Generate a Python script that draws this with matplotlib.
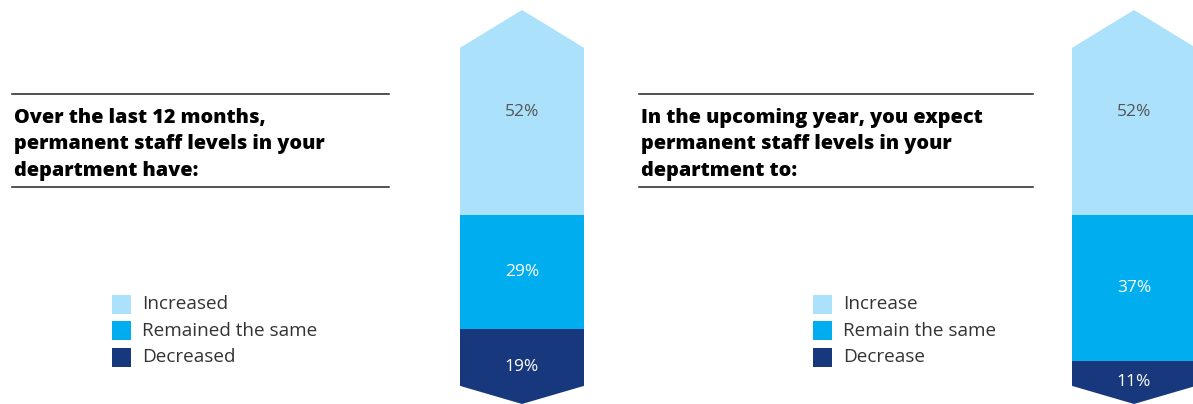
import matplotlib.pyplot as plt
from matplotlib.patches import Polygon, Rectangle
from matplotlib.lines import Line2D

# survey answers, stacked bottom to top: decreased / same / increased
past_labels = ["Increased", "Remained the same", "Decreased"]
past_values = [52, 29, 19]
future_labels = ["Increase", "Remain the same", "Decrease"]
future_values = [52, 37, 11]

past_title = ["Over the last 12 months,",
              "permanent staff levels in your",
              "department have:"]
future_title = ["In the upcoming year, you expect",
                "permanent staff levels in your",
                "department to:"]

colors = ["#ABE1FA", "#00AEEF", "#17387D"]
text_colors = ["#555555", "white", "white"]

W, H = 1193, 404
fig = plt.figure(figsize=(W / 100, H / 100), dpi=100)
fig.patch.set_facecolor("white")


def px(x, y):
    # pixel position (from top-left) to figure fraction
    return x / W, 1 - y / H


def arrow_bar(left_px, values):
    ax = fig.add_axes([left_px / W, 0, 124 / W, 394 / H])
    ax.set_xlim(-0.5, 0.5)
    ax.set_ylim(0, 100)
    ax.axis("off")
    tip_top, tip_bot = 9.6, 4.6
    shape = Polygon([(-0.5, tip_bot), (0, 0), (0.5, tip_bot), (0.5, 100 - tip_top),
                     (0, 100), (-0.5, 100 - tip_top)], closed=True,
                    transform=ax.transData, facecolor="none", edgecolor="none")
    ax.add_patch(shape)
    # values given top-first; stack from the bottom
    bottom = 0
    for v, c, tc in zip(values[::-1], colors[::-1], text_colors[::-1]):
        bars = ax.bar(0, v, width=1.0, bottom=bottom, color=c, linewidth=0)
        for b in bars:
            b.set_clip_path(shape)
        ax.text(0, bottom + v / 2, f"{v}%", ha="center", va="center",
                color=tc, fontsize=12.5, family="Open Sans")
        bottom += v
    return ax


def title_block(x0, x1, lines):
    for y in (94, 187):
        fig.add_artist(Line2D([x0 / W, x1 / W], [1 - y / H, 1 - y / H],
                              color="#222222", lw=1.1))
    for i, s in enumerate(lines):
        fx, fy = px(x0 + 2, 123 + i * 26.5)
        fig.text(fx, fy, s, ha="left", va="baseline", fontsize=14.3,
                 fontweight=800, family="Open Sans", color="black")


def legend_block(x0, labels):
    for i, (lab, c) in enumerate(zip(labels, colors)):
        yc = 304 + i * 26.5
        fig.add_artist(Rectangle(px(x0, yc + 9.5), 19 / W, 19 / H,
                                 transform=fig.transFigure, facecolor=c,
                                 edgecolor="none"))
        fx, fy = px(x0 + 30, yc)
        fig.text(fx, fy, lab, ha="left", va="center", fontsize=13.6,
                 family="Open Sans", color="#333333")


title_block(12, 389, past_title)
legend_block(112, past_labels)
arrow_bar(460, past_values)

title_block(639, 1033, future_title)
legend_block(813, future_labels)
arrow_bar(1072, future_values)

fig.savefig("out.png", dpi=100)
